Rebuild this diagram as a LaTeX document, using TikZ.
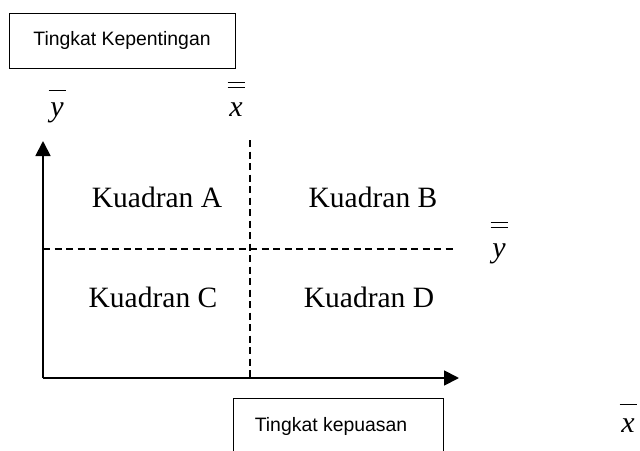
\documentclass[tikz,border=0pt]{standalone}
\usepackage{fontspec}
\setmainfont{Liberation Serif}
\newfontfamily\arialf{Liberation Sans}
\usetikzlibrary{arrows.meta}
\newcommand{\onebar}[2]{\setbox0\hbox{#2}\makebox[0pt][l]{\makebox[\wd0][c]{\raisebox{#1}{\rule{17pt}{1.2pt}}}}\box0}
\newcommand{\twobar}[3]{\setbox0\hbox{#3}\makebox[0pt][l]{\makebox[\wd0][c]{\raisebox{#1}{\rule{17pt}{1.2pt}}}}\makebox[0pt][l]{\makebox[\wd0][c]{\raisebox{#2}{\rule{17pt}{1.2pt}}}}\box0}
\begin{document}
\begin{tikzpicture}[x=1pt,y=-1pt,
  labelbox/.style={draw,line width=1pt,rectangle,font=\arialf\fontsize{19.4}{22}\selectfont,inner sep=0pt},
  quad/.style={anchor=base,font=\fontsize{29.5}{32}\selectfont,inner sep=0pt},
  mlet/.style={anchor=base,font=\itshape\fontsize{30}{32}\selectfont,inner sep=0pt},
  axisline/.style={line width=1.8pt,-{Triangle[length=15pt,width=15pt]}},
  meanline/.style={line width=1.3pt,dash pattern=on 7pt off 4.5pt}]
\useasboundingbox (0,0) rectangle (640,450);
% boxes
\node[labelbox,minimum width=226pt,minimum height=55pt] (ylab) at (122,40.5) {Tingkat Kepentingan};
\node[labelbox,minimum width=210pt,minimum height=56pt] (xlab) at (338,426) {\hspace*{-14pt}Tingkat kepuasan};
% axes
\coordinate (O) at (43,378);
\coordinate (ytop) at (43,141);
\coordinate (xend) at (459,378);
\draw[axisline] (O) -- (ytop);
\draw[axisline] (O) -- (xend);
% mean lines
\coordinate (vtop) at (250,140);
\coordinate (vbot) at (250,378);
\coordinate (hl) at (43,249);
\coordinate (hr) at (457,249);
\draw[meanline] (vtop) -- (vbot);
\draw[meanline] (hl) -- (hr);
% quadrant labels
\node[quad] (qa) at (157,207) {Kuadran A};
\node[quad] (qb) at (373,207) {Kuadran B};
\node[quad] (qc) at (153,307) {Kuadran C};
\node[quad] (qd) at (369,307) {Kuadran D};
% math labels
\node[mlet] (ybar) at (57,116) {\onebar{25pt}{y}};
\node[mlet] (xbb) at (236,116) {\twobar{28pt}{33pt}{x}};
\node[mlet] (ybb) at (499,257) {\twobar{29pt}{34pt}{y}};
\node[mlet] (xbar) at (628,432) {\onebar{27pt}{x}};
\end{tikzpicture}
\end{document}
